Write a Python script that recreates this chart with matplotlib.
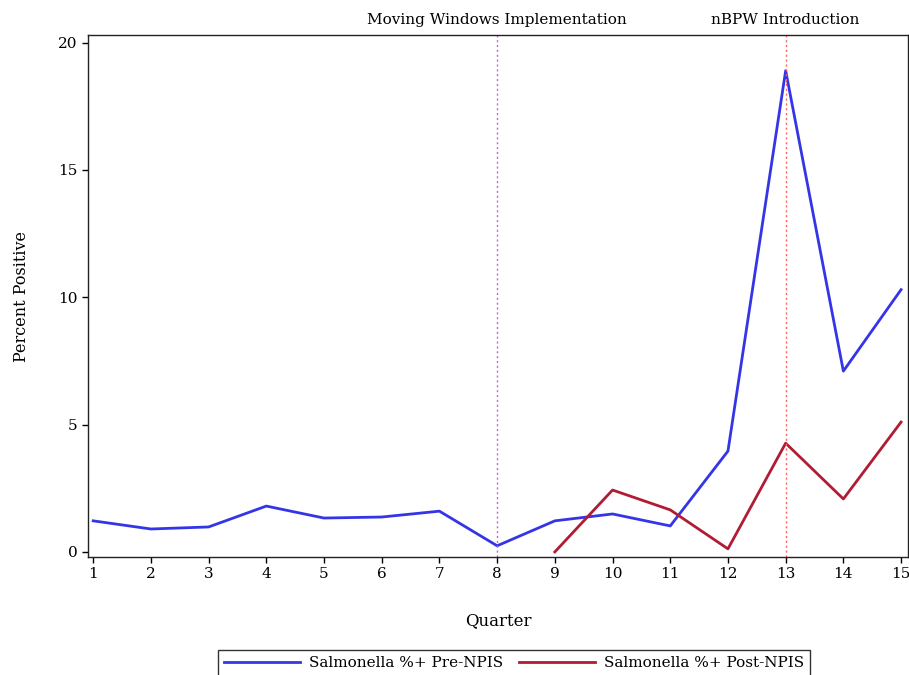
import matplotlib
matplotlib.use("Agg")
import matplotlib.pyplot as plt
import matplotlib.transforms as mtransforms

# Data
quarters = list(range(1, 16))
pre_npis = [1.22, 0.90, 0.98, 1.80, 1.33, 1.37, 1.60, 0.24, 1.22, 1.49, 1.02, 3.96, 18.9, 7.10, 10.3]
post_quarters = list(range(9, 16))
post_npis = [0.0, 2.43, 1.65, 0.12, 4.27, 2.08, 5.10]
event_x = [8, 13]
event_labels = ["Moving Windows Implementation", "nBPW Introduction"]
event_colors = ["#c860d8", "#ff6060"]

plt.rcParams["font.family"] = ["DejaVu Serif"]

fig = plt.figure(figsize=(9.09, 6.75), dpi=100)
ax = fig.add_axes([88 / 909, 1 - 557 / 675, 820 / 909, 522 / 675])

ax.plot(quarters, pre_npis, color="#3535e8", lw=2.0, label="Salmonella %+ Pre-NPIS")
ax.plot(post_quarters, post_npis, color="#b01c34", lw=2.0, label="Salmonella %+ Post-NPIS")

trans = mtransforms.blended_transform_factory(ax.transData, ax.transAxes)
for xv, lab, col in zip(event_x, event_labels, event_colors):
    ax.axvline(xv, color=col, lw=1.0, ls=(0, (1.5, 2)))
    ax.text(xv, 1.015, lab, transform=trans, ha="center", va="bottom", fontsize=11)

ax.set_xlim(0.91, 15.12)
ax.set_ylim(-0.2, 20.3)
ax.set_xticks(quarters)
ax.set_yticks([0, 5, 10, 15, 20])
ax.tick_params(direction="out", length=4, width=1, labelsize=11)
for s in ax.spines.values():
    s.set_linewidth(1.0)
    s.set_color("#222222")

ax.set_xlabel("Quarter", fontsize=12, labelpad=22)
ax.set_ylabel("Percent Positive", fontsize=11.5, labelpad=20)

leg = fig.legend(loc="upper center", bbox_to_anchor=(514 / 909, 1 - 650 / 675),
                 ncol=2, fontsize=11, frameon=True, fancybox=False,
                 handlelength=5.0, handletextpad=0.6, columnspacing=1.0,
                 borderpad=0.4, borderaxespad=0)
leg.get_frame().set_edgecolor("black")
leg.get_frame().set_linewidth(1.0)

fig.savefig("out.png", dpi=100)
